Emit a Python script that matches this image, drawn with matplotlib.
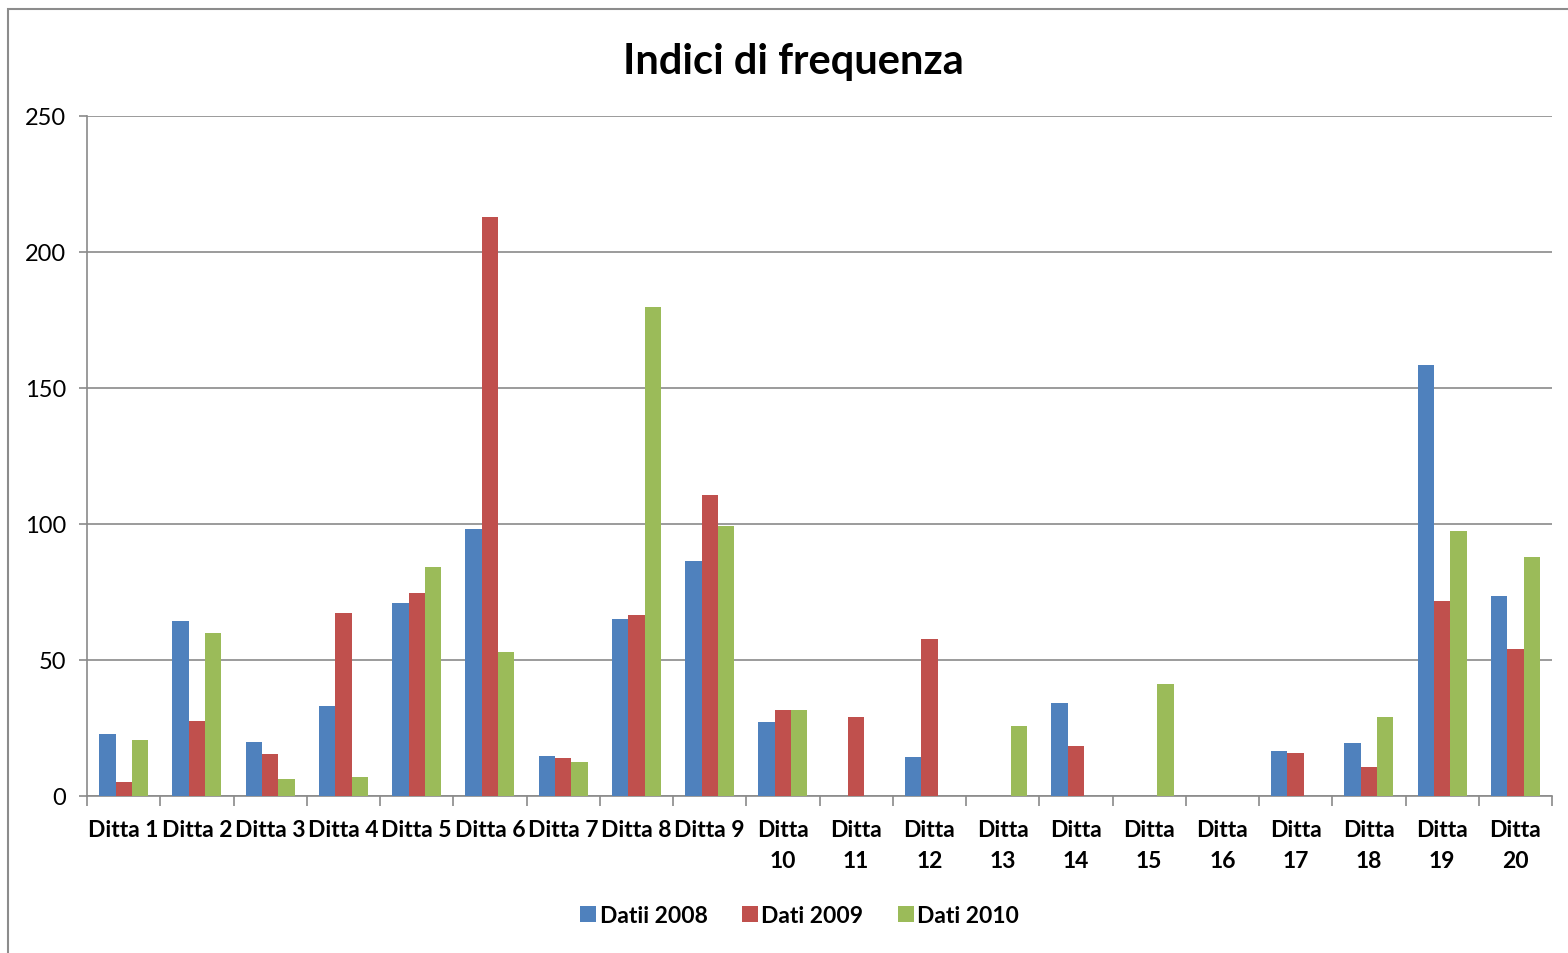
import numpy as np
import matplotlib
matplotlib.use("Agg")
import matplotlib.pyplot as plt
from matplotlib.patches import Rectangle

categories = [f"Ditta {i}" for i in range(1, 21)]
datii_2008 = [22.8, 64.3, 19.9, 33.1, 71.0, 98.2, 14.7, 65.0, 86.4, 27.2,
              0, 14.3, 0, 34.2, 0, 0, 16.5, 19.5, 158.5, 73.5]
dati_2009 = [5.1, 27.6, 15.4, 67.3, 74.6, 212.9, 14.0, 66.5, 110.7, 31.6,
             29.0, 57.7, 0, 18.4, 0, 0, 15.8, 10.7, 71.7, 54.0]
dati_2010 = [20.6, 59.9, 6.3, 7.0, 84.2, 52.9, 12.5, 179.8, 99.3, 31.6,
             0, 0, 25.7, 0, 41.2, 0, 0, 29.0, 97.4, 87.9]
series_labels = ["Datii 2008", "Dati 2009", "Dati 2010"]
colors = ["#4F81BD", "#C0504D", "#9BBB59"]

plt.rcParams['font.family'] = ['Lato', 'DejaVu Sans']

fig = plt.figure(figsize=(15.68, 9.54), dpi=100)
ax = fig.add_axes([0.0555, 0.1646, 0.9343, 0.7128])

# outer chart border (runs past the right and bottom edges)
fig.patches.append(Rectangle((8 / 1568, -20 / 954), 1600 / 1568, 964 / 954,
                             transform=fig.transFigure, fill=False,
                             edgecolor="#8c8c8c", linewidth=1.5))

x = np.arange(len(categories))
bw = 1 / 4.5
for k, (vals, lab, col) in enumerate(zip([datii_2008, dati_2009, dati_2010],
                                         series_labels, colors)):
    ax.bar(x + (k - 1) * bw, vals, width=bw, color=col, label=lab, zorder=3)

ax.set_xlim(-0.5, len(categories) - 0.5)
ax.set_ylim(0, 250)
ax.set_yticks(range(0, 251, 50))
ax.yaxis.grid(True, color="#8a8a8a", linewidth=1.2, zorder=0)
ax.tick_params(axis='y', length=6, width=1.2, color="#8a8a8a", labelsize=17,
               pad=9)

ax.set_xticks(np.arange(-0.5, len(categories), 1.0))
ax.set_xticklabels([])
ax.tick_params(axis='x', length=7, width=1.2, color="#8a8a8a")
tick_labels = [c if i < 9 else c.replace(" ", "\n") for i, c in enumerate(categories)]
for xi, lab in zip(x, tick_labels):
    ax.text(xi, -8.6, lab, ha="center", va="top", fontsize=16.5,
            fontweight="bold", linespacing=1.55,
            transform=ax.transData)

for s in ["top", "right"]:
    ax.spines[s].set_visible(False)
for s in ["left", "bottom"]:
    ax.spines[s].set_color("#8a8a8a")
    ax.spines[s].set_linewidth(1.2)

fig.text(0.506, 0.935, "Indici di frequenza", ha="center", va="center",
         fontsize=30, fontweight="bold")

leg = fig.legend(loc="center", bbox_to_anchor=(0.51, 0.039), ncol=3,
                 frameon=False, fontsize=16.5, handlelength=0.7,
                 handleheight=0.7, handletextpad=0.15, columnspacing=1.5)
for t in leg.get_texts():
    t.set_fontweight("bold")

fig.savefig("out.png", dpi=100)
